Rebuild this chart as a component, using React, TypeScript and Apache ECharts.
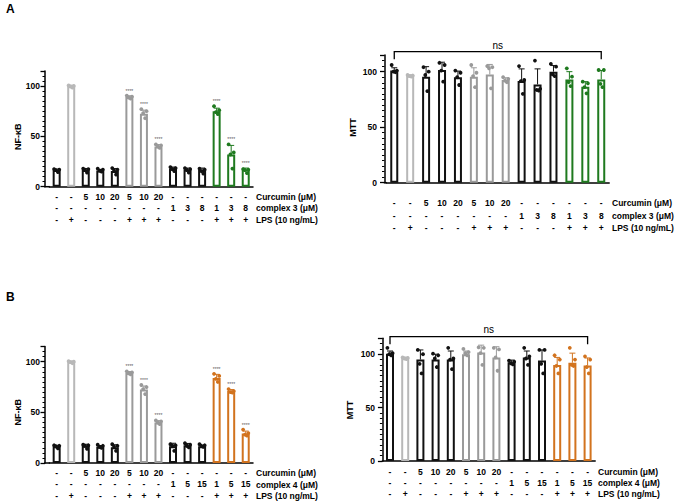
import React, { useEffect, useRef } from "react";
import * as echarts from "echarts";

// ---------- data ----------
const curcumin = ["-", "-", "5", "10", "20", "5", "10", "20", "-", "-", "-", "-", "-", "-"];
const complex3 = ["-", "-", "-", "-", "-", "-", "-", "-", "1", "3", "8", "1", "3", "8"];
const complex4 = ["-", "-", "-", "-", "-", "-", "-", "-", "1", "5", "15", "1", "5", "15"];
const lps = ["-", "+", "-", "-", "-", "+", "+", "+", "-", "-", "-", "+", "+", "+"];
const sigNfkb = ["", "", "", "", "", "****", "****", "****", "", "", "", "****", "****", "****"];
const sigNone = ["", "", "", "", "", "", "", "", "", "", "", "", "", ""];

const nfkbAMean = [16.5, 100, 16.5, 16, 15.5, 89, 72.5, 40, 18, 17, 16.5, 75, 32, 17];
const nfkbASd = [1, 0.8, 1.5, 1.2, 2.5, 1.3, 3.5, 1.8, 1.5, 1.5, 2, 3, 9, 1.5];
const nfkbAPts = [
  [17.5, 17, 16.5, 14.5], [100.5, 100, 99.5, 98.5], [18, 17.5, 17, 14], [18, 17, 16, 15],
  [18.5, 17, 16, 12], [90.5, 89.5, 88.5, 87.5], [77, 75, 73, 68], [42, 41, 40, 38.5],
  [19.5, 18.5, 17.5, 15.5], [18.5, 17.5, 16.5, 14], [18, 17, 15.5, 13], [80, 76, 74, 72],
  [42, 34, 32, 18], [17.5, 17, 16.5, 13.5],
];

const mttAMean = [101, 96.5, 95.5, 101.5, 95, 95.5, 97.5, 92.5, 91.5, 88.5, 100, 93, 86.5, 93];
const mttASd = [2.5, 0.8, 9, 7, 5.5, 8, 9, 2, 11, 14, 5.5, 7, 4.5, 8];
const mttAPts = [
  [106, 101, 100, 99.5], [97, 96.5, 96, 95.5], [104, 100, 97, 82.5], [108, 106, 101, 91],
  [101, 99, 95, 88], [106, 99, 96, 86], [105, 104, 103, 85], [95, 93.5, 92, 90.5],
  [105, 92.5, 91.5, 80], [110, 84.5, 83.5, 83], [107, 104.5, 97.5, 96], [103, 95.5, 90.5, 87],
  [91, 89.5, 86, 80.5], [101.5, 101.5, 89, 86],
];

const nfkbBMean = [16.5, 100, 17, 16, 15.5, 89, 72.5, 40, 16.5, 17.5, 16.5, 84, 71, 29];
const nfkbBSd = [1, 0.8, 1.5, 1.2, 2.5, 1.3, 3.5, 1.8, 3, 1.8, 1, 3.5, 1.5, 2.5];
const nfkbBPts = [
  [17.5, 17, 16.5, 14.5], [100.5, 100, 99.5, 98.5], [18, 17.5, 17, 14], [18, 17, 16, 15],
  [18.5, 17, 16, 12], [90.5, 89.5, 88.5, 87.5], [77, 75, 73, 68], [42, 41, 40, 38.5],
  [18.5, 17.5, 17, 12], [19.5, 18, 17, 15.5], [18.5, 17.5, 17, 16], [88, 86, 83, 80],
  [73, 71, 70, 69.5], [33, 29.5, 28, 27],
];

const mttBMean = [100.5, 96.5, 95, 95, 95, 100, 101.5, 97, 92.5, 97, 94, 90, 92, 89.5];
const mttBSd = [2.5, 0.8, 9, 5, 8, 3, 7, 10, 2, 6, 10, 7, 9, 7];
const mttBPts = [
  [106, 101, 100, 99], [97, 96.5, 96, 95.5], [104, 100, 91, 82], [100.5, 99, 96, 88],
  [106, 96, 95, 86], [105, 102, 101, 99], [106.5, 106, 101, 90], [106, 104.5, 97, 84.5],
  [94, 93, 91.5, 90.5], [106, 98, 96, 90], [104, 104, 91, 82], [99, 95, 89, 82],
  [106, 95, 90, 89], [98, 95, 88, 82],
];

// ---------- styles / layout ----------
const FONT = "'Liberation Sans', Arial, sans-serif";
const groupKeys = ["k", "lg", "k", "k", "k", "g", "g", "g", "k", "k", "k", "c", "c", "c"];
const BASE: Record<string, string> = { k: "#111111", lg: "#b8b8b8", g: "#9a9a9a" };
const JITTER = [-2.6, 2.6, -0.8, 1.2];

const panels = [
  {
    grid: { left: 49.4, top: 70.9, width: 203.6, height: 115.8 }, axisX: 45, offset: 4.4,
    name: "NF-κB", nameX: 18.3, nameY: 136.7, mean: nfkbAMean, sd: nfkbASd, pts: nfkbAPts,
    sig: sigNfkb, cpx: complex3, cpxName: "complex 3 (μM)", accent: "#1f7a1f",
    rowFirst: 10.3, rowGap: 11.3, titleX: 256, yMargin: 5, ns: false,
  },
  {
    grid: { left: 386.3, top: 55, width: 222.9, height: 127.7 }, axisX: 384.5, offset: 1.8,
    name: "MTT", nameX: 353.3, nameY: 127.5, mean: mttAMean, sd: mttASd, pts: mttAPts,
    sig: sigNone, cpx: complex3, cpxName: "complex 3 (μM)", accent: "#1f7a1f",
    rowFirst: 20.6, rowGap: 12.5, titleX: 612, yMargin: 7.5, ns: true, nsY: 51.7, nsTextY: 45,
  },
  {
    grid: { left: 49.4, top: 346.5, width: 203.6, height: 116.5 }, axisX: 45, offset: 4.4,
    name: "NF-κB", nameX: 18.3, nameY: 412.3, mean: nfkbBMean, sd: nfkbBSd, pts: nfkbBPts,
    sig: sigNfkb, cpx: complex4, cpxName: "complex 4 (μM)", accent: "#d2731e",
    rowFirst: 10.3, rowGap: 11.2, titleX: 256, yMargin: 5, ns: false,
  },
  {
    grid: { left: 382.4, top: 338.2, width: 212.8, height: 122.8 }, axisX: 382.4, offset: 0,
    name: "MTT", nameX: 350, nameY: 410, mean: mttBMean, sd: mttBSd, pts: mttBPts,
    sig: sigNone, cpx: complex4, cpxName: "complex 4 (μM)", accent: "#d2731e",
    rowFirst: 11.3, rowGap: 11, titleX: 598, yMargin: 7.5, ns: true, nsY: 336.7, nsTextY: 329.3,
  },
];

function buildOption() {
  const grids: any[] = [];
  const xAxes: any[] = [];
  const yAxes: any[] = [];
  const series: any[] = [];
  const graphics: any[] = [];

  graphics.push({ type: "text", x: 6, y: 3, style: { text: "A", font: `bold 12px ${FONT}`, fill: "#000" } });
  graphics.push({ type: "text", x: 6, y: 290.5, style: { text: "B", font: `bold 12px ${FONT}`, fill: "#000" } });

  panels.forEach((p, i) => {
    const col = (j: number) => (groupKeys[j] === "c" ? p.accent : BASE[groupKeys[j]]);
    const axisY = p.grid.top + p.grid.height;
    grids.push({ ...p.grid, containLabel: false, outerBoundsMode: "none" });

    xAxes.push({
      gridIndex: i,
      type: "category",
      data: curcumin.map((c, j) => `${c}\n${p.cpx[j]}\n${lps[j]}`),
      axisLine: { onZero: false, lineStyle: { color: "#000", width: 1.5 } },
      axisTick: { alignWithLabel: true, length: 4, lineStyle: { color: "#000", width: 1.3 } },
      axisLabel: {
        interval: 0, color: "#000", fontSize: 8.5, fontWeight: "bold", fontFamily: FONT,
        lineHeight: p.rowGap, margin: p.rowFirst - p.rowGap / 2,
      },
      splitLine: { show: false },
    });

    yAxes.push({
      gridIndex: i, type: "value", position: "left", offset: p.offset, min: 0, max: 115, interval: 50,
      axisLine: { show: true, onZero: false, lineStyle: { color: "#000", width: 1.5 } },
      axisTick: { show: true, length: 4.5, lineStyle: { color: "#000", width: 1.3 } },
      axisLabel: {
        color: "#000", fontSize: 8.5, fontWeight: "bold", fontFamily: FONT, margin: p.yMargin,
        formatter: (v: number) => (v % 50 === 0 ? String(v) : ""),
      },
      splitLine: { show: false },
    });
    yAxes.push({
      gridIndex: i, type: "value", position: "left", offset: p.offset, min: 0, max: 115, interval: 5,
      axisLine: { show: false, onZero: false },
      axisTick: { show: true, length: 2.5, lineStyle: { color: "#000", width: 1 } },
      axisLabel: { show: false },
      splitLine: { show: false },
    });

    // bars
    series.push({
      type: "bar", xAxisIndex: i, yAxisIndex: 2 * i, barWidth: 8, z: 2,
      data: p.mean.map((v, j) => ({ value: v, itemStyle: { color: "#fff", borderColor: col(j), borderWidth: 2 } })),
    });
    // error bars
    series.push({
      type: "custom", xAxisIndex: i, yAxisIndex: 2 * i, z: 3,
      encode: { x: 0, y: 1 },
      data: p.mean.map((v, j) => [j, v, p.sd[j]]),
      renderItem: (_params: any, api: any) => {
        const j = api.value(0);
        const m = api.value(1);
        const s = api.value(2);
        const p0 = api.coord([j, m]);
        const p1 = api.coord([j, m + s]);
        const c = col(j);
        return {
          type: "group",
          children: [
            { type: "line", shape: { x1: p0[0], y1: p0[1], x2: p1[0], y2: p1[1] }, style: { stroke: c, lineWidth: 1 } },
            { type: "line", shape: { x1: p1[0] - 3, y1: p1[1], x2: p1[0] + 3, y2: p1[1] }, style: { stroke: c, lineWidth: 1 } },
          ],
        };
      },
    });
    // individual points
    const dotData: number[][] = [];
    p.pts.forEach((arr, j) => arr.forEach((v, k) => dotData.push([j, v, k])));
    series.push({
      type: "custom", xAxisIndex: i, yAxisIndex: 2 * i, z: 4,
      encode: { x: 0, y: 1 },
      data: dotData,
      renderItem: (_params: any, api: any) => {
        const j = api.value(0);
        const v = api.value(1);
        const k = api.value(2);
        const pt = api.coord([j, v]);
        return { type: "circle", shape: { cx: pt[0] + JITTER[k % JITTER.length], cy: pt[1], r: 1.9 }, style: { fill: col(j) } };
      },
    });
    // significance stars
    const starData: any[] = [];
    p.sig.forEach((s, j) => {
      if (s) starData.push([j, Math.max(p.mean[j] + p.sd[j], ...p.pts[j]), s]);
    });
    if (starData.length) {
      series.push({
        type: "custom", xAxisIndex: i, yAxisIndex: 2 * i, z: 5,
        encode: { x: 0, y: 1 },
        data: starData,
        renderItem: (params: any, api: any) => {
          const j = api.value(0);
          const top = api.value(1);
          const pt = api.coord([j, top]);
          return {
            type: "text", x: pt[0], y: pt[1] - 2.5,
            style: { text: starData[params.dataIndex][2], fontSize: 5, fontFamily: FONT, fill: "#555", align: "center", verticalAlign: "bottom" },
          };
        },
      });
    }

    // axis name
    graphics.push({
      type: "text", x: p.nameX, y: p.nameY, rotation: Math.PI / 2,
      style: { text: p.name, font: `bold 9px ${FONT}`, fill: "#000", align: "center", verticalAlign: "middle" },
    });
    // row titles
    ["Curcumin (μM)", p.cpxName, "LPS (10 ng/mL)"].forEach((t, r) => {
      graphics.push({
        type: "text", x: p.titleX, y: axisY + p.rowFirst + r * p.rowGap,
        style: { text: t, font: `bold 8.5px ${FONT}`, fill: "#000", align: "left", verticalAlign: "middle" },
      });
    });
    // connect x axis to offset y axis
    if (p.offset > 0) {
      graphics.push({
        type: "line", shape: { x1: p.axisX - 0.75, y1: axisY, x2: p.grid.left + 0.5, y2: axisY },
        style: { stroke: "#000", lineWidth: 1.5 },
      });
    }
    // ns bracket
    if (p.ns) {
      const band = p.grid.width / curcumin.length;
      const xa = p.grid.left + band / 2;
      const xb = p.grid.left + p.grid.width - band / 2;
      graphics.push({
        type: "polyline",
        shape: { points: [[xa, p.nsY! + 7.5], [xa, p.nsY!], [xb, p.nsY!], [xb, p.nsY! + 7.5]] },
        style: { stroke: "#000", lineWidth: 1.3, fill: "none" },
      });
      graphics.push({
        type: "text", x: (xa + xb) / 2, y: p.nsTextY!,
        style: { text: "ns", font: `10px ${FONT}`, fill: "#000", align: "center", verticalAlign: "middle" },
      });
    }
  });

  return {
    animation: false,
    backgroundColor: "#ffffff",
    grid: grids,
    xAxis: xAxes,
    yAxis: yAxes,
    series,
    graphic: graphics,
  };
}

export default function App() {
  const ref = useRef<HTMLDivElement>(null);
  useEffect(() => {
    if (!ref.current) return;
    const chart = echarts.init(ref.current, undefined, { renderer: "svg" });
    chart.setOption(buildOption() as any);
    return () => chart.dispose();
  }, []);
  return (
    <div
      ref={ref}
      style={{ position: "fixed", left: 0, top: 0, width: 685, height: 504, background: "#fff" }}
    />
  );
}
